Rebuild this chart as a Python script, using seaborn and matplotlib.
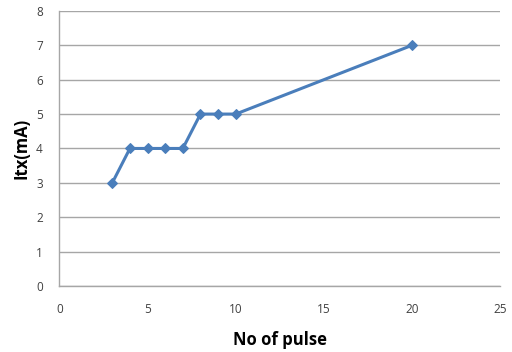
import matplotlib
matplotlib.use("Agg")
import matplotlib.pyplot as plt
import seaborn as sns
import pandas as pd

pulses = [3, 4, 5, 6, 7, 8, 9, 10, 20]
itx_ma = [3, 4, 4, 4, 4, 5, 5, 5, 7]
x_ticks = [0, 5, 10, 15, 20, 25]
y_ticks = [0, 1, 2, 3, 4, 5, 6, 7, 8]

sns.set_theme(style="white")
plt.rcParams["font.family"] = ["Open Sans", "DejaVu Sans"]

df = pd.DataFrame({"pulse": pulses, "itx": itx_ma})

fig = plt.figure(figsize=(5.12, 3.52), dpi=100)
ax = fig.add_axes([0.116, 0.1875, 0.861, 0.7815])

sns.lineplot(data=df, x="pulse", y="itx", ax=ax, color="#4a7ebb",
             linewidth=2.2, marker="D", markersize=5.5,
             markeredgecolor="#4a7ebb", markerfacecolor="#4a7ebb")

ax.set_xlim(0, 25)
ax.set_ylim(0, 8)
ax.set_xticks(x_ticks)
ax.set_yticks(y_ticks)
ax.yaxis.grid(True, color="#a6a6a6", linewidth=1)
ax.xaxis.grid(False)
ax.set_axisbelow(True)

for s in ["top", "right"]:
    ax.spines[s].set_visible(False)
for s in ["left", "bottom"]:
    ax.spines[s].set_color("#a6a6a6")
    ax.spines[s].set_linewidth(1)

ax.tick_params(axis="both", length=0, labelsize=8.5, colors="#404040")
ax.tick_params(axis="y", pad=12)
ax.tick_params(axis="x", pad=12)

ax.set_xlabel("No of pulse", fontsize=12, fontweight="bold", color="black", labelpad=11)
ax.set_ylabel("Itx(mA)", fontsize=12, fontweight="bold", color="black", labelpad=4)

fig.savefig("out.png", dpi=100)
